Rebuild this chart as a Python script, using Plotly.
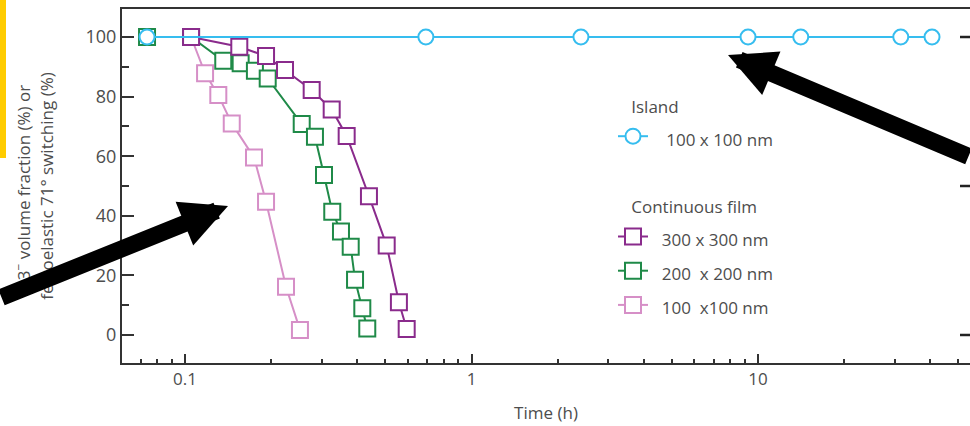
import plotly.graph_objects as go

# Switching data: time in hours, percentage switched
island_t = [0.0737, 0.693, 2.41, 9.23, 14.1, 31.5, 40.5]
island_v = [100, 100, 100, 100, 100, 100, 100]

film300_t = [0.105, 0.1547, 0.1918, 0.2234, 0.2768, 0.3251, 0.3667, 0.4386, 0.5058, 0.558, 0.594]
film300_v = [100, 96.7, 93.6, 88.9, 82.2, 75.7, 66.8, 46.6, 30.0, 11.0, 2.0]

film200_t = [0.0737, 0.105, 0.136, 0.1564, 0.1754, 0.1944, 0.2555, 0.2842, 0.3056,
             0.3266, 0.3503, 0.3788, 0.3922, 0.4158, 0.4327]
film200_v = [100, 100, 92.0, 91.2, 88.7, 86.1, 70.8, 66.5, 53.7, 41.4, 34.7, 29.6, 18.5, 9.0, 2.2]

film100_t = [0.105, 0.1175, 0.1307, 0.1456, 0.1741, 0.1918, 0.2252, 0.2519]
film100_v = [100, 87.8, 80.5, 71.0, 59.6, 44.7, 16.2, 1.7]

x_tickvals = [0.1, 1, 10]
x_ticktext = ["0.1", "1", "10"]
y_tickvals = [0, 20, 40, 60, 80, 100]
y_right_tickvals = [0, 50, 100]

FONT = "Open Sans, sans-serif"
TXT = "#4d4d4d"
AX = "#333333"

W, H = 970, 426
PL, PR, PT, PB = 122, 970, 9, 363
Y_RANGE = [-9.4, 109.4]


def px(x):
    return (x - PL) / (PR - PL)


def py(y):
    return (PB - y) / (PB - PT)


def yfrac(v):
    return (v - Y_RANGE[0]) / (Y_RANGE[1] - Y_RANGE[0])


def lab(s):
    return "<span style='font-size:17px'>" + s + "</span>"


NB = "\u00a0"

fig = go.Figure()

series = [
    ("film", "Continuous film", lab(NB * 2 + "100 " + NB + "x100 nm"), film100_t, film100_v, "#d68fc7", "square", 4),
    ("film", "Continuous film", lab(NB * 2 + "200 " + NB + "x 200 nm"), film200_t, film200_v, "#1f8a48", "square", 3),
    ("film", "Continuous film", lab(NB * 2 + "300 x 300 nm"), film300_t, film300_v, "#8a2b8c", "square", 2),
    ("island", "Island", lab(NB * 3 + "100 x 100 nm"), island_t, island_v, "#36bdef", "circle", 1),
]

for grp, gtitle, name, t, v, col, sym, rank in series:
    fig.add_trace(go.Scatter(
        x=t, y=v, name=name, mode="lines+markers",
        legendgroup=grp, legendgrouptitle=dict(text=NB * 3 + gtitle,
                                               font=dict(size=17, color=TXT, family=FONT)),
        legendrank=rank,
        line=dict(color=col, width=2),
        marker=dict(symbol=sym, size=16 if sym == "square" else 15, color="white",
                    line=dict(color=col, width=2)),
    ))

fig.update_layout(
    width=W, height=H,
    margin=dict(l=PL, r=W - PR, t=PT, b=H - PB),
    paper_bgcolor="white", plot_bgcolor="white",
    font=dict(family=FONT, color=TXT, size=17),
    showlegend=True,
    legend=dict(x=px(613), y=py(89), xanchor="left", yanchor="top",
                font=dict(size=24, color=TXT, family=FONT),
                traceorder="grouped", tracegroupgap=41,
                bgcolor="rgba(0,0,0,0)"),
    xaxis=dict(type="log", range=[-1.2199, 1.740],
               tickvals=x_tickvals, ticktext=x_ticktext,
               ticks="inside", ticklen=9, tickwidth=2, tickcolor=AX,
               minor=dict(dtick="D1", ticks="inside", ticklen=4, tickwidth=1.5, tickcolor=AX),
               showline=True, linecolor=AX, linewidth=2, mirror=True,
               showgrid=False, zeroline=False,
               tickfont=dict(size=17, color=TXT),
               title=dict(text="Time (h)", font=dict(size=17, color=TXT), standoff=18)),
    yaxis=dict(range=Y_RANGE, tickvals=y_tickvals,
               ticks="inside", ticklen=12, tickwidth=2, tickcolor=AX,
               minor=dict(dtick=10, ticks="inside", ticklen=7, tickwidth=1.5, tickcolor=AX),
               showline=True, linecolor=AX, linewidth=2,
               showgrid=False, zeroline=False,
               tickfont=dict(size=18, color=TXT),
               title=dict(text="r3<sup>\u2212</sup> volume fraction (%) or<br>ferroelastic 71\u00b0 switching (%)",
                          font=dict(size=17, color=TXT), standoff=28)),
)

# tick marks along the right-hand edge
for v in y_right_tickvals:
    fig.add_shape(type="path", xref="paper", yref="paper",
                  path="M {:.5f},{:.5f} L {:.5f},{:.5f}".format(px(960), yfrac(v), px(970), yfrac(v)),
                  line=dict(color="#222222", width=2.5), layer="above")

# yellow marker strip at the top-left edge
fig.add_shape(type="rect", xref="paper", yref="paper",
              x0=px(0), x1=px(6), y0=py(0), y1=py(158),
              fillcolor="#ffcc00", line=dict(width=0), layer="above")

# pointer arrows
arrow = dict(xref="paper", yref="paper", axref="pixel", ayref="pixel", text="",
             showarrow=True, arrowhead=2, arrowwidth=17, arrowsize=9.4 / 17,
             arrowcolor="black", standoff=0, startstandoff=0)
fig.add_annotation(x=px(228), y=py(206), ax=-267, ay=92, **arrow)
fig.add_annotation(x=px(728), y=py(55), ax=279, ay=102, **arrow)

fig.write_html("out.html")
